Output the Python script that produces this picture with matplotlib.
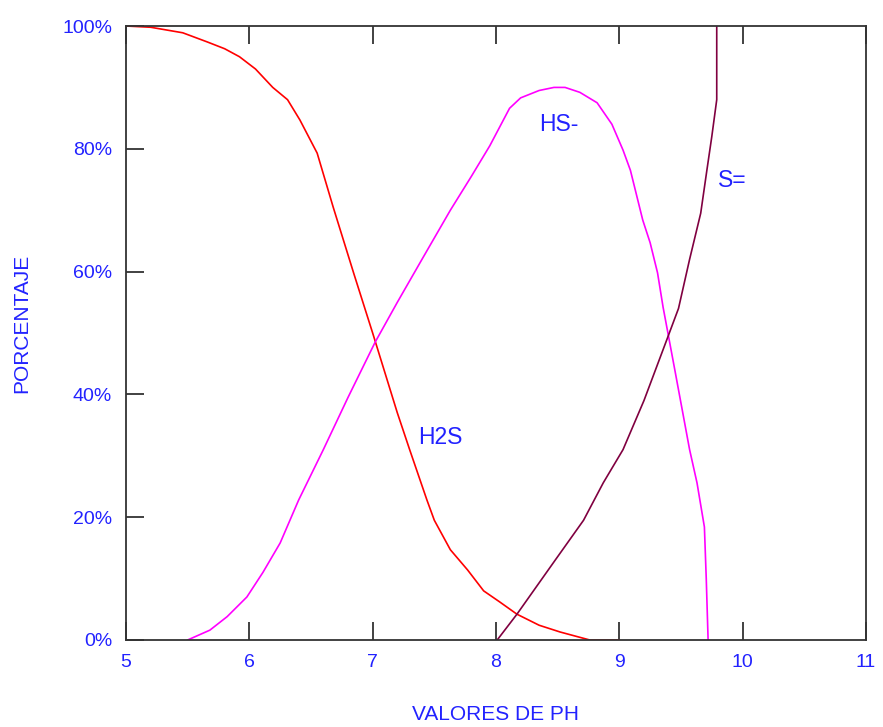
import matplotlib
matplotlib.use("Agg")
import matplotlib.pyplot as plt
from matplotlib.ticker import FuncFormatter

# H2S
h2s_x = [5.0, 5.2, 5.46, 5.66, 5.8, 5.92, 6.05, 6.19, 6.31, 6.41, 6.55, 6.68, 6.85, 7.0, 7.2, 7.3,
         7.44, 7.5, 7.63, 7.77, 7.9, 8.03, 8.17, 8.35, 8.52, 8.76, 9.0]
h2s_y = [100, 99.8, 98.9, 97.4, 96.3, 95, 93, 90, 88, 84.7, 79.3, 70.5, 59.5, 50, 37, 31,
         22.8, 19.5, 14.7, 11.4, 8.0, 6.2, 4.2, 2.4, 1.3, 0, 0]
# HS-
hs_x = [5.5, 5.68, 5.82, 5.98, 6.11, 6.25, 6.4, 6.6, 6.8, 7.02, 7.2, 7.4, 7.63, 7.8, 7.95,
        8.11, 8.2, 8.35, 8.47, 8.56, 8.68, 8.82, 8.94, 9.03, 9.09, 9.19, 9.25, 9.31, 9.355,
        9.45, 9.57, 9.63, 9.69, 9.705, 9.72]
hs_y = [0, 1.6, 3.8, 7, 11, 15.8, 22.8, 31, 39.5, 48.5, 55, 62, 70, 75.5, 80.5,
        86.6, 88.3, 89.5, 90, 90, 89.2, 87.5, 84, 79.8, 76.5, 68.4, 64.7, 59.8, 54.2,
        44, 31, 25.6, 18.4, 10, 0]
# S=
s_x = [8.01, 8.17, 8.48, 8.71, 8.87, 9.03, 9.2, 9.4, 9.48, 9.57, 9.66, 9.71, 9.75, 9.79, 9.79]
s_y = [0, 4.2, 13, 19.5, 25.6, 31, 39, 49.7, 54, 62, 69.5, 76.5, 82, 88, 100]

x_ticks = [5, 6, 7, 8, 9, 10, 11]
y_ticks = [0, 20, 40, 60, 80, 100]

labels = ["H2S", "HS-", "S="]
label_pos = [(7.547, 32.9), (8.51, 84.0), (9.92, 74.8)]

blue = "#2222ff"
FONT = "Liberation Sans"
fig = plt.figure(figsize=(8.83, 7.27), dpi=100)
ax = fig.add_axes([0.1427, 0.1197, 0.838, 0.8445])

ax.plot(h2s_x, h2s_y, color="#ff0000", lw=1.2)
ax.plot(hs_x, hs_y, color="#ff00ff", lw=1.2)
ax.plot(s_x, s_y, color="#800040", lw=1.2)

for t, (px, py) in zip(labels, label_pos):
    ax.text(px, py, t, color=blue, fontsize=16.5, ha="center", va="center", family=FONT)

ax.set_xlim(5, 11)
ax.set_ylim(0, 100)
ax.set_xticks(x_ticks)
ax.set_yticks(y_ticks)
ax.yaxis.set_major_formatter(FuncFormatter(lambda v, p: f"{int(v)}%"))
ax.tick_params(axis="x", direction="in", length=13, width=1.3, color="#333333",
               labelcolor=blue, labelsize=14, pad=10, top=True)
ax.tick_params(axis="y", direction="in", length=13, width=1.3, color="#333333",
               labelcolor=blue, labelsize=14, pad=10, right=False)
for lab in ax.get_xticklabels() + ax.get_yticklabels():
    lab.set_family(FONT)
for sp in ax.spines.values():
    sp.set_color("#333333")
    sp.set_linewidth(1.3)

ax.set_xlabel("VALORES DE PH", color=blue, fontsize=15, family=FONT, va="center")
ax.xaxis.set_label_coords(0.5, -0.122)
ax.set_ylabel("PORCENTAJE", color=blue, fontsize=15, family=FONT, va="center")
ax.yaxis.set_label_coords(-0.1405, 0.516)

fig.savefig("out.png", dpi=100)
